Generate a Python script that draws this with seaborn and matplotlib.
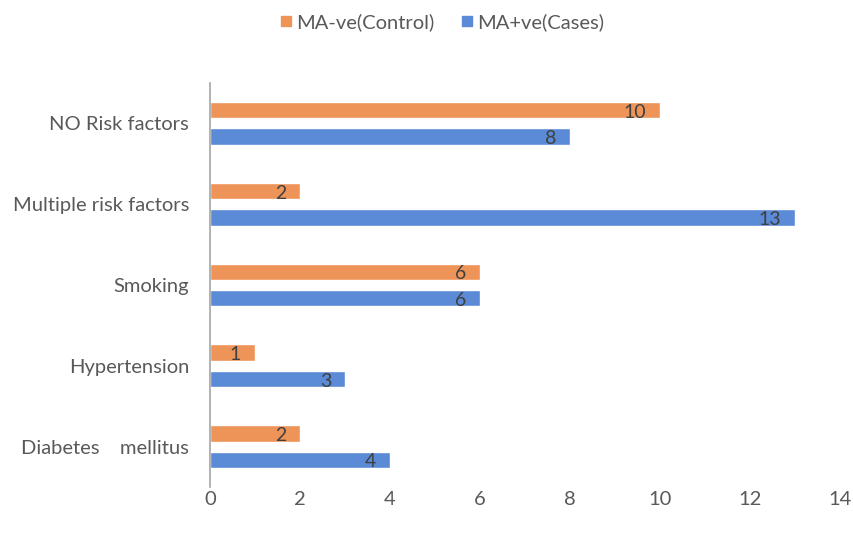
import matplotlib
matplotlib.use("Agg")
import matplotlib.pyplot as plt
import seaborn as sns
import pandas as pd
from matplotlib.lines import Line2D

categories = ["NO Risk factors", "Multiple risk factors", "Smoking", "Hypertension", "Diabetes    mellitus"]
control = [10, 2, 6, 1, 2]
cases = [8, 13, 6, 3, 4]
series_names = ["MA-ve(Control)", "MA+ve(Cases)"]
colors = ["#EF9458", "#5B8AD6"]
xticks = [0, 2, 4, 6, 8, 10, 12, 14]

rows = []
for c, v in zip(categories, control):
    rows.append({"cat": c, "series": series_names[0], "val": v})
for c, v in zip(categories, cases):
    rows.append({"cat": c, "series": series_names[1], "val": v})
df = pd.DataFrame(rows)

sns.set_style("white")
plt.rcParams["font.family"] = ["Lato", "DejaVu Sans"]

fig = plt.figure(figsize=(8.54, 5.40), dpi=100)
ax = fig.add_axes([210 / 854, 53 / 540, 630 / 854, 404 / 540])

sns.barplot(data=df, y="cat", x="val", hue="series", order=categories,
            hue_order=series_names, palette=colors, orient="h",
            width=0.655, gap=0.38, ax=ax, legend=False, saturation=1)

for p in ax.patches:
    w = p.get_width()
    if w <= 0:
        continue
    ax.annotate(f"{int(round(w))}", (w, p.get_y() + p.get_height() / 2),
                xytext=(-10, -1.5), textcoords="offset points",
                ha="right", va="center", fontsize=14, color="#404040")

ax.set_xlim(0, 14)
ax.set_ylim(4.5, -0.5)
ax.set_xticks(xticks)
ax.set_xticklabels([str(t) for t in xticks])
ax.set_xlabel("")
ax.set_ylabel("")
ax.tick_params(axis="both", length=0, labelsize=14.5, colors="#595959")
ax.tick_params(axis="y", pad=15)
ax.tick_params(axis="x", pad=3)
for s in ["top", "right", "bottom"]:
    ax.spines[s].set_visible(False)
ax.spines["left"].set_color("#A6A6A6")
ax.spines["left"].set_linewidth(1.2)

handles = [Line2D([0], [0], marker="s", linestyle="", markersize=7,
                  markerfacecolor=col, markeredgecolor=col) for col in colors]
fig.legend(handles, series_names, loc="center", bbox_to_anchor=(439 / 854, 1 - 22 / 540),
           ncol=2, frameon=False, fontsize=14.5, handletextpad=-0.1, handlelength=1.2,
           columnspacing=1.0, labelcolor="#595959")

fig.savefig("out.png", dpi=100)
